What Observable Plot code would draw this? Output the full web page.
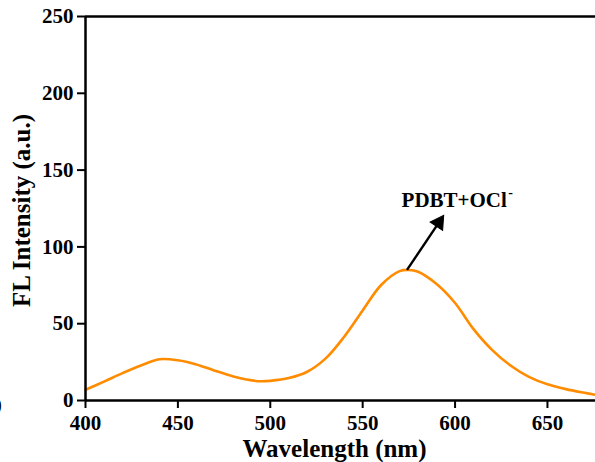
<!DOCTYPE html>
<html>
<head>
<meta charset="utf-8">
<script src="https://cdn.jsdelivr.net/npm/d3@7"></script>
<script src="https://cdn.jsdelivr.net/npm/@observablehq/plot@0.6"></script>
<style>
  html, body { margin: 0; padding: 0; background: #fff; overflow: hidden; }
  svg { display: block; }
</style>
</head>
<body>
<div id="chart"></div>
<script>
// Spectrum: wavelength (nm) vs FL intensity (a.u.)
const wavelength = [400, 410, 420, 430, 440, 450, 460, 470, 480, 490, 495, 500, 510, 520, 530, 540, 550, 560, 570, 575, 580, 590, 600, 610, 620, 630, 640, 650, 660, 670, 676];
const intensity  = [7.0, 12.3, 17.8, 22.8, 26.8, 26.2, 23.5, 19.4, 15.7, 13.1, 12.5, 12.8, 14.6, 18.7, 27.4, 41.5, 58.6, 75.2, 84.2, 85.0, 83.8, 75.8, 63.5, 46.5, 33.0, 22.8, 15.4, 10.6, 7.4, 5.0, 3.7];

const xTicks = [400, 450, 500, 550, 600, 650];
const yTicks = [0, 50, 100, 150, 200, 250];

// annotation
const annLabel = "PDBT+OCl";
const annSup = "-";
const arrowFrom = [574, 85];
const arrowHead = [591.2, 115.8];
const labelAt = [599, 126];

const spectrum = wavelength.map((w, i) => ({w, v: intensity[i]}));
const font = "'Liberation Serif', 'Times New Roman', serif";

const plot = Plot.plot({
  width: 595,
  height: 462,
  marginLeft: 85,
  marginRight: 0,
  marginTop: 16,
  marginBottom: 62,
  style: {fontFamily: font, fontWeight: "bold", fontSize: "21px", color: "#000", background: "transparent"},
  x: {domain: [400, 676]},
  y: {domain: [0, 250]},
  marks: [
    Plot.line(spectrum, {x: "w", y: "v", stroke: "#FF8C00", strokeWidth: 2.6, curve: "catmull-rom"}),
    Plot.ruleY([250], {stroke: "#000", strokeWidth: 2.5}),
    Plot.ruleY([0], {stroke: "#000", strokeWidth: 2.5}),
    Plot.ruleX([400], {stroke: "#000", strokeWidth: 2.5}),
    Plot.axisX({ticks: xTicks, tickSize: 8, tickPadding: 7, strokeWidth: 2, label: null, fontSize: 21, fontWeight: "bold"}),
    Plot.axisY({ticks: yTicks, tickSize: 8, tickPadding: 4, strokeWidth: 2, label: null, fontSize: 21, fontWeight: "bold"}),
    Plot.text(["Wavelength (nm)"], {frameAnchor: "bottom", textAnchor: "middle", dx: -6, dy: 48, fontSize: 25, fontWeight: "bold", lineAnchor: "middle"}),
    Plot.text(["FL Intensity (a.u.)"], {frameAnchor: "left", textAnchor: "middle", dx: -64, dy: 2, rotate: -90, fontSize: 25, fontWeight: "bold", lineAnchor: "middle"}),
    Plot.link([{x1: arrowFrom[0], y1: arrowFrom[1], x2: arrowHead[0], y2: arrowHead[1]}], {x1: "x1", y1: "y1", x2: "x2", y2: "y2", stroke: "#000", strokeWidth: 2.4}),
    Plot.dot([{x: arrowHead[0], y: arrowHead[1]}], {x: "x", y: "y", symbol: "triangle", r: 5.6, fill: "#000", stroke: "#000", strokeWidth: 1, rotate: 34}),
    Plot.text([{x: labelAt[0], y: labelAt[1]}], {x: "x", y: "y", text: () => annLabel, fontSize: 21, fontWeight: "bold", lineAnchor: "bottom", textAnchor: "middle", dx: 1}),
    Plot.text([{x: labelAt[0], y: labelAt[1]}], {x: "x", y: "y", text: () => annSup, fontSize: 14, fontWeight: "bold", lineAnchor: "bottom", textAnchor: "start", dx: 55, dy: -10}),
    Plot.text(["0"], {frameAnchor: "bottom-left", dx: -89, dy: 12, fontSize: 21, fontWeight: "bold", textAnchor: "middle"})
  ]
});
document.getElementById("chart").appendChild(plot);
</script>
</body>
</html>
